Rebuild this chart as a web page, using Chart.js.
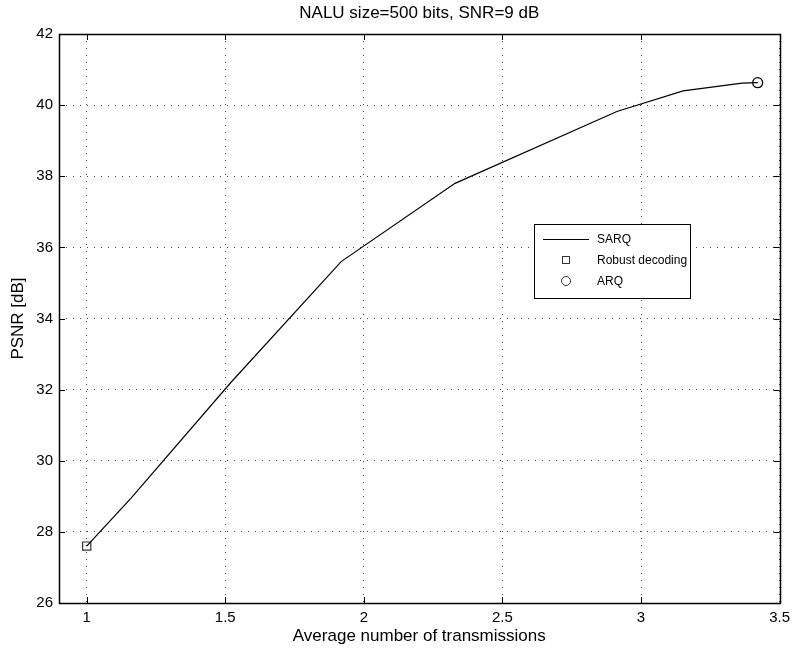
<!DOCTYPE html>
<html>
<head>
<meta charset="utf-8">
<script src="https://cdn.jsdelivr.net/npm/chart.js@4.4.1/dist/chart.umd.min.js"></script>
<style>
  html, body { margin: 0; padding: 0; background: #fff; }
  canvas { display: block; }
</style>
</head>
<body>
<canvas id="psnrChart" width="796" height="652"></canvas>
<script>
// data
const seriesNames = ['SARQ', 'Robust decoding', 'ARQ'];
const sarqX = [1, 1.16, 1.52, 1.918, 2.329, 2.913, 3.152, 3.365, 3.421];
const sarqY = [27.6, 28.95, 32.2, 35.6, 37.8, 39.82, 40.40, 40.62, 40.63];
const robustX = [1];
const robustY = [27.6];
const arqX = [3.421];
const arqY = [40.63];
const xTicks = [1, 1.5, 2, 2.5, 3, 3.5];
const yTicks = [26, 28, 30, 32, 34, 36, 38, 40, 42];

const FONT = 'Liberation Sans, Arial, Helvetica, sans-serif';
const toPts = (xs, ys) => xs.map((x, i) => ({ x: x, y: ys[i] }));

// matlab style box with inward ticks on all four sides
const boxPlugin = {
    id: 'boxPlugin',
    afterDraw(chart) {
        const { ctx, chartArea: a, scales: { x, y } } = chart;
        const tl = 6;
        ctx.save();
        ctx.strokeStyle = '#000';
        ctx.lineWidth = 1;
        ctx.beginPath();
        x.ticks.forEach(t => {
            const px = Math.round(x.getPixelForValue(t.value)) + 0.5;
            ctx.moveTo(px, a.bottom); ctx.lineTo(px, a.bottom - tl);
            ctx.moveTo(px, a.top); ctx.lineTo(px, a.top + tl);
        });
        y.ticks.forEach(t => {
            const py = Math.round(y.getPixelForValue(t.value)) + 0.5;
            ctx.moveTo(a.left, py); ctx.lineTo(a.left + tl, py);
            ctx.moveTo(a.right, py); ctx.lineTo(a.right - tl, py);
        });
        ctx.stroke();
        ctx.lineWidth = 1.5;
        ctx.strokeRect(Math.round(a.left) + 0.5, Math.round(a.top) + 0.5,
            Math.round(a.right - a.left), Math.round(a.bottom - a.top));
        ctx.restore();
    }
};

// legend box inside the axes, like the matlab one
const legendPlugin = {
    id: 'legendPlugin',
    afterDraw(chart) {
        const ctx = chart.ctx;
        const bx = 534, by = 224, bw = 156, bh = 74;
        ctx.save();
        ctx.fillStyle = '#fff';
        ctx.fillRect(bx, by, bw, bh);
        ctx.strokeStyle = '#000';
        ctx.lineWidth = 1;
        ctx.strokeRect(bx + 0.5, by + 0.5, bw, bh);
        const rows = [by + 15, by + 36, by + 57];
        // line sample
        ctx.beginPath();
        ctx.moveTo(543, rows[0] + 0.5);
        ctx.lineTo(589, rows[0] + 0.5);
        ctx.stroke();
        // square sample
        ctx.strokeStyle = '#333';
        ctx.strokeRect(562.5, rows[1] - 3.5, 7, 7);
        // circle sample
        ctx.beginPath();
        ctx.arc(566, rows[2], 4.5, 0, Math.PI * 2);
        ctx.stroke();
        ctx.fillStyle = '#000';
        ctx.font = '12px ' + FONT;
        ctx.textBaseline = 'middle';
        seriesNames.forEach((n, i) => ctx.fillText(n, 597, rows[i] + 1));
        ctx.restore();
    }
};

const ctx = document.getElementById('psnrChart').getContext('2d');
new Chart(ctx, {
    type: 'line',
    data: {
        datasets: [
            {
                label: seriesNames[0],
                data: toPts(sarqX, sarqY),
                borderColor: '#000',
                borderWidth: 1.2,
                pointRadius: 0,
                tension: 0,
                fill: false
            },
            {
                label: seriesNames[1],
                data: toPts(robustX, robustY),
                showLine: false,
                pointStyle: 'rect',
                pointRadius: 5.8,
                borderColor: '#333',
                borderWidth: 1.2,
                backgroundColor: 'rgba(0,0,0,0)'
            },
            {
                label: seriesNames[2],
                data: toPts(arqX, arqY),
                showLine: false,
                pointStyle: 'circle',
                pointRadius: 5,
                borderColor: '#000',
                borderWidth: 1.2,
                backgroundColor: 'rgba(0,0,0,0)'
            }
        ]
    },
    options: {
        responsive: false,
        animation: false,
        devicePixelRatio: 1,
        layout: { padding: { right: 15 } },
        plugins: {
            legend: { display: false },
            tooltip: { enabled: false },
            title: {
                display: true,
                fullSize: false,
                text: 'NALU size=500 bits, SNR=9 dB',
                color: '#000',
                font: { family: FONT, size: 17, weight: 'normal' },
                padding: { top: 3, bottom: 10.6 }
            }
        },
        scales: {
            x: {
                type: 'linear',
                min: 0.9,
                max: 3.5,
                afterBuildTicks: s => { s.ticks = xTicks.map(v => ({ value: v })); },
                afterFit: s => { s.height = 49; },
                grid: { color: '#444', lineWidth: 1, drawTicks: false },
                border: { display: false, dash: [1, 6] },
                ticks: {
                    color: '#000',
                    padding: 6,
                    maxRotation: 0,
                    font: { family: FONT, size: 15 },
                    callback: v => String(v)
                },
                title: {
                    display: true,
                    text: 'Average number of transmissions',
                    color: '#000',
                    font: { family: FONT, size: 17 },
                    padding: { top: 0, bottom: 5 }
                }
            },
            y: {
                type: 'linear',
                min: 26,
                max: 42,
                afterBuildTicks: s => { s.ticks = yTicks.map(v => ({ value: v })); },
                afterFit: s => { s.width = 59; },
                grid: { color: '#444', lineWidth: 1, drawTicks: false },
                border: { display: false, dash: [1, 6] },
                ticks: {
                    color: '#000',
                    padding: 6,
                    font: { family: FONT, size: 15 },
                    callback: v => String(v)
                },
                title: {
                    display: true,
                    text: 'PSNR [dB]',
                    color: '#000',
                    font: { family: FONT, size: 17 },
                    padding: { top: 8, bottom: 0 }
                }
            }
        }
    },
    plugins: [boxPlugin, legendPlugin]
});
</script>
</body>
</html>
